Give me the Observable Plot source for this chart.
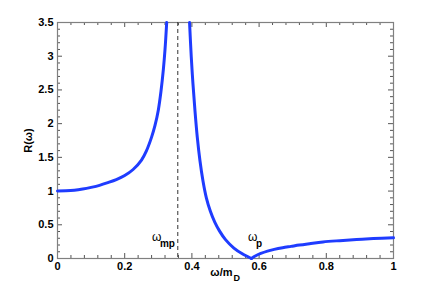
<!DOCTYPE html>
<html><head><meta charset="utf-8">
<script src="https://cdn.jsdelivr.net/npm/d3@7"></script>
<script src="https://cdn.jsdelivr.net/npm/@observablehq/plot@0.6"></script>
<style>body{margin:0;background:#fff}</style>
</head><body><div id="chart"></div>
<script>
// Left branch (below the pole)
const omegaLeft = [0, 0.025, 0.05, 0.075, 0.1, 0.125, 0.15, 0.175, 0.2, 0.225, 0.25, 0.265, 0.28, 0.29, 0.3, 0.308, 0.315, 0.32, 0.325];
const rLeft     = [1.0, 1.003, 1.012, 1.03, 1.055, 1.085, 1.125, 1.17, 1.23, 1.32, 1.46, 1.6, 1.8, 1.97, 2.2, 2.48, 2.8, 3.1, 3.5];
// Right branch, falling to zero at omega_p
const omegaFall = [0.393, 0.398, 0.403, 0.409, 0.416, 0.424, 0.433, 0.443, 0.455, 0.468, 0.482, 0.5, 0.525, 0.55, 0.577];
const rFall     = [3.5, 3.0, 2.6, 2.2, 1.8, 1.45, 1.15, 0.9, 0.7, 0.54, 0.41, 0.28, 0.155, 0.07, 0.0];
// Right branch, rising after omega_p
const omegaRise = [0.577, 0.59, 0.605, 0.625, 0.645, 0.67, 0.695, 0.72, 0.75, 0.79, 0.84, 0.89, 0.94, 1.0];
const rRise     = [0.0, 0.04, 0.075, 0.11, 0.135, 0.16, 0.18, 0.2, 0.22, 0.245, 0.265, 0.282, 0.295, 0.306];

const omegaMp = 0.358;

const xTicks = [0, 0.2, 0.4, 0.6, 0.8, 1];
const xTickLabels = ["0", "0.2", "0.4", "0.6", "0.8", "1"];
const yTicks = [0, 0.5, 1, 1.5, 2, 2.5, 3, 3.5];
const yTickLabels = ["0", "0.5", "1", "1.5", "2", "2.5", "3", "3.5"];
const xMinor = [0.04,0.08,0.12,0.16,0.24,0.28,0.32,0.36,0.44,0.48,0.52,0.56,0.64,0.68,0.72,0.76,0.84,0.88,0.92,0.96];
const yMinor = [0.1,0.2,0.3,0.4,0.6,0.7,0.8,0.9,1.1,1.2,1.3,1.4,1.6,1.7,1.8,1.9,2.1,2.2,2.3,2.4,2.6,2.7,2.8,2.9,3.1,3.2,3.3,3.4];

// annotations (omega symbol + subscript)
const annX = [0.281, 0.567];
const annY = [0.31, 0.31];
const annSub = ["mp", "p"];

const W = 434, H = 291;
const mL = 57, mR = 41, mT = 22, mB = 33;
const pw = W - mL - mR, ph = H - mT - mB;
const FONT = "'Liberation Sans', Arial, Helvetica, sans-serif";
const blue = "#1f3cff";
const tickColor = "#555";

const idx = a => a.map((_, i) => i);

const chart = Plot.plot({
  width: W, height: H,
  marginLeft: mL, marginRight: mR, marginTop: mT, marginBottom: mB,
  style: {fontFamily: FONT, fontSize: "11px", color: "#000", background: "#fff"},
  x: {domain: [0, 1]},
  y: {domain: [0, 3.5]},
  marks: [
    // minor ticks
    Plot.tickX(xMinor, {x: d => d, insetTop: ph - 3, stroke: tickColor}),
    Plot.tickX(xMinor, {x: d => d, insetBottom: ph - 3, stroke: tickColor}),
    Plot.tickY(yMinor, {y: d => d, insetRight: pw - 3, stroke: tickColor}),
    Plot.tickY(yMinor, {y: d => d, insetLeft: pw - 3, stroke: tickColor}),
    // major ticks
    Plot.tickX(xTicks, {x: d => d, insetTop: ph - 5, stroke: tickColor}),
    Plot.tickX(xTicks, {x: d => d, insetBottom: ph - 5, stroke: tickColor}),
    Plot.tickY(yTicks, {y: d => d, insetRight: pw - 5, stroke: tickColor}),
    Plot.tickY(yTicks, {y: d => d, insetLeft: pw - 5, stroke: tickColor}),
    Plot.frame({stroke: "#808080", strokeWidth: 1.2}),
    Plot.axisX(xTicks, {tickSize: 0, tickPadding: 4, tickFormat: d => xTickLabels[xTicks.indexOf(d)], fontWeight: "bold", fontSize: 11, label: null}),
    Plot.axisY(yTicks, {tickSize: 0, tickPadding: 4, tickFormat: d => yTickLabels[yTicks.indexOf(d)], fontWeight: "bold", fontSize: 11, label: null}),
    Plot.ruleX([omegaMp], {x: d => d, stroke: "#333", strokeWidth: 1, strokeDasharray: "4,3"}),
    Plot.line(idx(omegaLeft), {x: i => omegaLeft[i], y: i => rLeft[i], stroke: blue, strokeWidth: 3, curve: "catmull-rom"}),
    Plot.line(idx(omegaFall), {x: i => omegaFall[i], y: i => rFall[i], stroke: blue, strokeWidth: 3, curve: "catmull-rom"}),
    Plot.line(idx(omegaRise), {x: i => omegaRise[i], y: i => rRise[i], stroke: blue, strokeWidth: 3, curve: "catmull-rom"}),
    // annotations: omega with subscripts
    Plot.text(idx(annX), {x: i => annX[i], y: i => annY[i], text: () => "ω", textAnchor: "start", fontSize: 12, fill: "#000"}),
    Plot.text(idx(annX), {x: i => annX[i], y: i => annY[i], text: i => annSub[i], dx: 8, dy: 6.5, textAnchor: "start", fontSize: 10, fontWeight: "bold", fill: "#000"}),
    // axis labels
    Plot.text(["ω/m"], {frameAnchor: "bottom", text: d => d, dx: 7, dy: 17, textAnchor: "end", lineAnchor: "bottom", fontWeight: "bold", fontSize: 11}),
    Plot.text(["D"], {frameAnchor: "bottom", text: d => d, dx: 8, dy: 22, textAnchor: "start", lineAnchor: "bottom", fontWeight: "bold", fontSize: 9}),
    Plot.text(["R(ω)"], {frameAnchor: "left", text: d => d, dx: -29, rotate: -90, textAnchor: "middle", fontWeight: "bold", fontSize: 11})
  ]
});

document.getElementById("chart").appendChild(chart);
</script>
</body></html>
